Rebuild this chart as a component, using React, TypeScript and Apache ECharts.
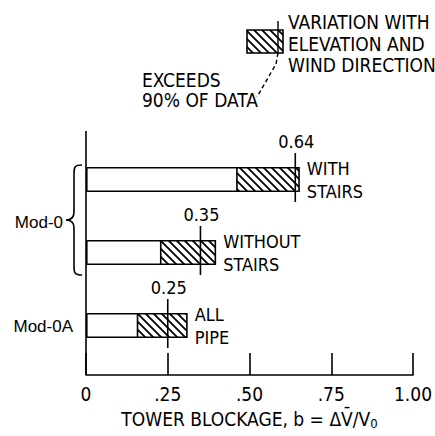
import React, { useEffect, useRef } from 'react';
import * as echarts from 'echarts';

// ---- data ----
const categories = ['WITH\nSTAIRS', 'WITHOUT\nSTAIRS', 'ALL\nPIPE'];
const hatchStart = [0.464, 0.231, 0.16];
const barEnd = [0.654, 0.398, 0.311];
const exceeds90 = [0.64, 0.35, 0.25];
const exceedsLabels = ['0.64', '0.35', '0.25'];
const xTicks = [0, 0.25, 0.5, 0.75, 1.0];
const xTickLabels = ['0', '.25', '.50', '.75', '1.00'];
const groupLabels = ['Mod-0', 'Mod-0A'];
const legendLines = ['VARIATION WITH', 'ELEVATION AND', 'WIND DIRECTION'];
const exceedsNote = ['EXCEEDS', '90% OF DATA'];
const axisTitle = 'TOWER BLOCKAGE, b = \u0394V\u0304/V{s|0}';

const NARROW = "'Liberation Sans Narrow', 'DejaVu Sans Condensed', 'Arial Narrow', sans-serif";
const REGULAR = "'Liberation Sans', Arial, sans-serif";

echarts.graphic.registerShape(
  'brace',
  echarts.graphic.extendPath(
    'M16,0 C9,0 8,2 8,8 L8,47 C8,53 5,55 0,55 C5,55 8,57 8,63 L8,102 C8,108 9,110 16,110',
    {}
  )
);

function makeHatch(): HTMLCanvasElement {
  const s = 8;
  const c = document.createElement('canvas');
  c.width = s;
  c.height = s;
  const ctx = c.getContext('2d')!;
  ctx.fillStyle = '#fff';
  ctx.fillRect(0, 0, s, s);
  ctx.strokeStyle = '#000';
  ctx.lineWidth = 1.8;
  ctx.beginPath();
  ctx.moveTo(-2, -2);
  ctx.lineTo(s + 2, s + 2);
  ctx.moveTo(-2, s - 2);
  ctx.lineTo(2, s + 2);
  ctx.moveTo(s - 2, -2);
  ctx.lineTo(s + 2, 2);
  ctx.stroke();
  return c;
}

export default function App() {
  const ref = useRef<HTMLDivElement>(null);
  useEffect(() => {
    document.body.style.margin = '0';
    const chart = echarts.init(ref.current!, null, { renderer: 'svg' });
    const hatch: any = { image: makeHatch(), repeat: 'repeat', imageWidth: 8, imageHeight: 8 };
    const BAR_H = 25;

    chart.setOption({
      animation: false,
      backgroundColor: '#fff',
      grid: { left: 86, right: 22, top: 143, height: 219, outerBoundsMode: 'none', containLabel: false },
      xAxis: {
        type: 'value',
        min: 0,
        max: 1,
        interval: 0.25,
        offset: 13,
        axisLine: { show: true, lineStyle: { color: '#000', width: 1.6 } },
        axisTick: { show: true, inside: true, length: 22, lineStyle: { color: '#000', width: 1.6 } },
        splitLine: { show: false },
        axisLabel: {
          margin: 9,
          color: '#000',
          fontSize: 19,
          fontFamily: NARROW,
          formatter: (v: number) => {
            const i = xTicks.findIndex((t) => Math.abs(t - v) < 1e-9);
            return i >= 0 ? xTickLabels[i] : '';
          },
        },
        name: axisTitle,
        nameLocation: 'middle',
        nameGap: 32,
        nameTextStyle: {
          color: '#000',
          fontSize: 19,
          fontFamily: NARROW,
          rich: { s: { fontSize: 13, fontFamily: NARROW, color: '#000', padding: [10, 0, 0, 0] } },
        },
      },
      yAxis: {
        type: 'category',
        data: categories,
        inverse: true,
        axisLine: { show: false },
        axisTick: { show: false },
        axisLabel: { show: false },
        splitLine: { show: false },
      },
      series: [
        {
          name: 'range',
          type: 'bar',
          data: barEnd,
          barWidth: BAR_H,
          itemStyle: { color: hatch, borderColor: '#000', borderWidth: 1.6 },
          label: {
            show: true,
            position: 'right',
            distance: 7,
            color: '#000',
            fontSize: 18,
            lineHeight: 23,
            fontFamily: NARROW,
            align: 'left',
            formatter: (p: any) => categories[p.dataIndex],
          },
          silent: true,
          z: 2,
        },
        {
          name: 'base',
          type: 'bar',
          data: hatchStart,
          barWidth: BAR_H,
          barGap: '-100%',
          itemStyle: { color: '#fff', borderColor: '#000', borderWidth: 1.6 },
          silent: true,
          z: 3,
        },
        {
          name: 'exceeds',
          type: 'custom',
          z: 4,
          silent: true,
          data: exceeds90.map((v, i) => [v, i]),
          encode: { x: 0, y: 1 },
          renderItem: (params: any, api: any) => {
            const p = api.coord([api.value(0), api.value(1)]);
            const top = p[1] - BAR_H / 2 - 14;
            const bottom = p[1] + BAR_H / 2 + 10;
            return {
              type: 'group',
              children: [
                {
                  type: 'line',
                  shape: { x1: p[0], y1: top, x2: p[0], y2: bottom },
                  style: { stroke: '#000', lineWidth: 1.6 },
                },
                {
                  type: 'text',
                  style: {
                    text: exceedsLabels[params.dataIndex],
                    x: p[0] + 1,
                    y: top - 3,
                    align: 'center',
                    verticalAlign: 'bottom',
                    fontSize: 18,
                    fontFamily: NARROW,
                    fill: '#000',
                  },
                },
              ],
            };
          },
        },
      ],
    });

    const x0 = chart.convertToPixel({ xAxisIndex: 0 }, 0) as number;

    chart.setOption({
      graphic: [
        // full-height left axis line
        { type: 'line', shape: { x1: x0, y1: 131, x2: x0, y2: 375 }, style: { stroke: '#000', lineWidth: 1.6 } },
        // group braces and labels
        { type: 'brace', x: 66, y: 165, style: { stroke: '#000', lineWidth: 1.6, fill: null } },
        {
          type: 'text',
          x: 63,
          y: 222,
          style: { text: groupLabels[0], align: 'right', verticalAlign: 'middle', fontSize: 17, fontFamily: REGULAR, fill: '#000' },
        },
        {
          type: 'text',
          x: 73,
          y: 326,
          style: { text: groupLabels[1], align: 'right', verticalAlign: 'middle', fontSize: 17, fontFamily: REGULAR, fill: '#000' },
        },
        // legend key
        { type: 'rect', shape: { x: 247, y: 30, width: 36, height: 23 }, style: { fill: hatch, stroke: '#000', lineWidth: 1.6 } },
        { type: 'line', shape: { x1: 278, y1: 21, x2: 278, y2: 53 }, style: { stroke: '#000', lineWidth: 1.4 } },
        {
          type: 'polyline',
          shape: { points: [[278, 53], [276, 64], [257, 97]] },
          style: { stroke: '#000', lineWidth: 1.4, lineDash: [4, 3], fill: null },
        },
        ...legendLines.map((t, i) => ({
          type: 'text',
          x: 288,
          y: 22 + i * 21.6,
          style: { text: t, align: 'left', verticalAlign: 'middle', fontSize: 19, fontFamily: NARROW, fill: '#000' },
        })),
        ...exceedsNote.map((t, i) => ({
          type: 'text',
          x: 142,
          y: 80 + i * 20,
          style: { text: t, align: 'left', verticalAlign: 'middle', fontSize: 19, fontFamily: NARROW, fill: '#000' },
        })),
      ],
    });

    return () => chart.dispose();
  }, []);
  return <div ref={ref} style={{ width: 435, height: 436 }} />;
}
